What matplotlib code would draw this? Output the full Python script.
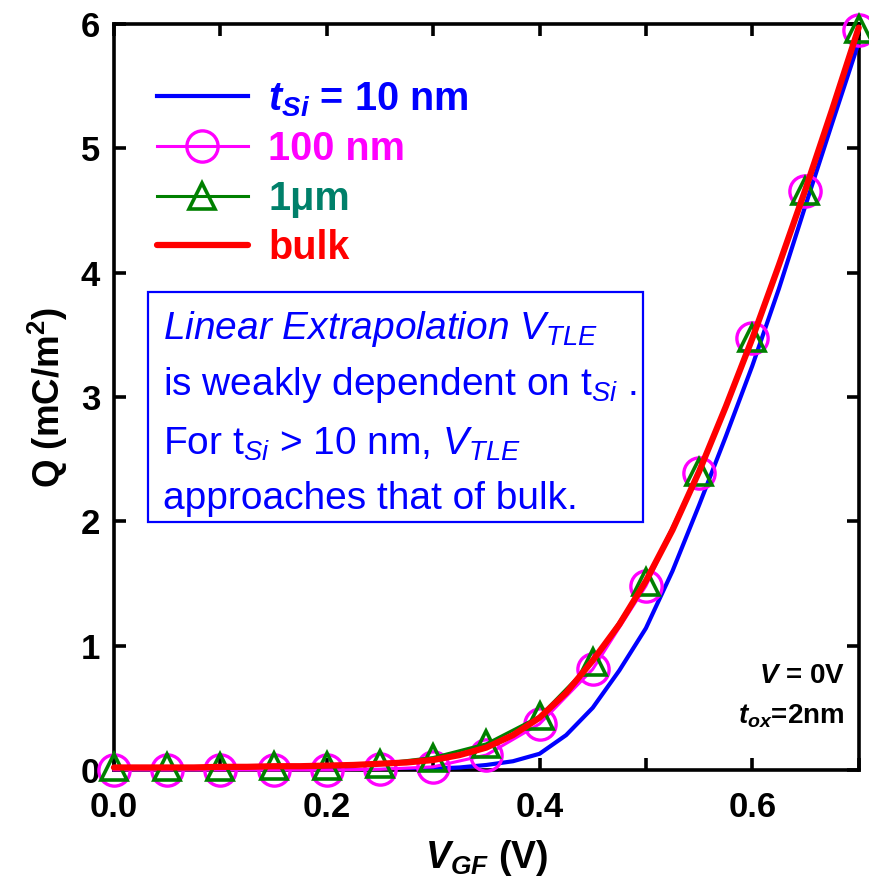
import matplotlib
matplotlib.use("Agg")
import matplotlib.pyplot as plt
from matplotlib.patches import Rectangle
from matplotlib.ticker import MultipleLocator

# Gate voltage grid for the continuous curves (V)
v_line = [0.0, 0.025, 0.05, 0.075, 0.1, 0.125, 0.15, 0.175, 0.2, 0.225,
          0.25, 0.275, 0.3, 0.325, 0.35, 0.375, 0.4, 0.425, 0.45, 0.475,
          0.5, 0.525, 0.55, 0.575, 0.6, 0.625, 0.65, 0.675, 0.7]

# Inversion charge (mC/m^2), tSi = 10 nm
q_10nm = [0.0, 0.0, 0.0, 0.0, 0.0, 0.0, 0.0, 0.0, 0.0, 0.0,
          0.0, 0.005, 0.01, 0.02, 0.04, 0.07, 0.13, 0.28, 0.50, 0.80,
          1.14, 1.60, 2.13, 2.68, 3.25, 3.87, 4.54, 5.20, 5.85]

# Inversion charge (mC/m^2), bulk device
q_bulk = [0.02, 0.02, 0.02, 0.02, 0.025, 0.025, 0.03, 0.03, 0.035, 0.04,
          0.05, 0.06, 0.08, 0.12, 0.18, 0.28, 0.42, 0.62, 0.88, 1.17,
          1.52, 1.93, 2.40, 2.92, 3.47, 4.06, 4.67, 5.31, 5.97]

# Sampled points for the thicker films
v_marker = [0.0, 0.05, 0.1, 0.15, 0.2, 0.25, 0.3, 0.35, 0.4, 0.45,
            0.5, 0.55, 0.6, 0.65, 0.7]
q_100nm = [0.0, 0.0, 0.0, 0.0, 0.0, 0.005, 0.025, 0.12, 0.37, 0.81,
           1.48, 2.39, 3.47, 4.66, 5.95]
q_1um = [0.02, 0.02, 0.02, 0.03, 0.03, 0.05, 0.10, 0.21, 0.43, 0.87,
         1.51, 2.40, 3.47, 4.66, 5.96]

x_ticks = [0.0, 0.2, 0.4, 0.6]
x_tick_labels = ["0.0", "0.2", "0.4", "0.6"]
y_ticks = [0, 1, 2, 3, 4, 5, 6]
y_tick_labels = ["0", "1", "2", "3", "4", "5", "6"]

legend_labels = [r"$\mathbfit{t}_{\mathbfit{Si}}$ = 10 nm", "100 nm", "1\u03bcm", "bulk"]

plt.rcParams["font.family"] = ["Liberation Sans", "DejaVu Sans"]
plt.rcParams["mathtext.fontset"] = "custom"
plt.rcParams["mathtext.rm"] = "Liberation Sans"
plt.rcParams["mathtext.it"] = "Liberation Sans:italic"
plt.rcParams["mathtext.bf"] = "Liberation Sans:bold"
plt.rcParams["mathtext.bfit"] = "Liberation Sans:bold:italic"

BLUE = "#0000ff"
MAGENTA = "#ff00ff"
GREEN = "#008000"
TEAL = "#00806a"
RED = "#ff0000"

fig = plt.figure(figsize=(8.7, 8.85), dpi=100)
ax = fig.add_axes([0.131, 0.130, 0.856, 0.843])

ax.plot(v_line, q_10nm, color=BLUE, lw=3.0, label=legend_labels[0], zorder=3)
ax.plot(v_marker, q_100nm, color=MAGENTA, lw=2.2, marker="o", ms=22.5,
        mfc="none", mec=MAGENTA, mew=2.4, clip_on=False,
        label=legend_labels[1], zorder=4)
ax.plot(v_marker, q_1um, color=GREEN, lw=2.2, marker="^", ms=19,
        mfc="none", mec=GREEN, mew=2.6, clip_on=False,
        label=legend_labels[2], zorder=5)
ax.plot(v_line, q_bulk, color=RED, lw=4.5, label=legend_labels[3],
        solid_capstyle="round", clip_on=False, zorder=6)

ax.set_xlim(0.0, 0.7)
ax.set_ylim(0, 6)
ax.set_xticks(x_ticks)
ax.set_xticklabels(x_tick_labels)
ax.xaxis.set_minor_locator(MultipleLocator(0.1))
ax.set_yticks(y_ticks)
ax.set_yticklabels(y_tick_labels)

for side in ["left", "right", "top", "bottom"]:
    ax.spines[side].set_linewidth(2.6)
ax.tick_params(which="both", direction="in", top=True, right=True,
               length=8.5, width=2.6, labelsize=25)
ax.tick_params(axis="x", which="both", pad=15)
ax.tick_params(axis="y", which="both", pad=10)
for lab in ax.get_xticklabels() + ax.get_yticklabels():
    lab.set_fontweight("bold")

ax.set_xlabel(r"$\mathbfit{V}_{\mathbfit{GF}}$ (V)", fontsize=27,
              fontweight="bold", labelpad=10)
ax.set_ylabel(r"Q (mC/m$^{\mathbf{2}}$)", fontsize=26.5,
              fontweight="bold", labelpad=8)

leg = ax.legend(loc="upper left", bbox_to_anchor=(0.02, 0.962),
                frameon=False, handlelength=2.3,
                handletextpad=0.52, labelspacing=0.29, borderpad=0.2,
                numpoints=1, labelcolor=[BLUE, MAGENTA, TEAL, RED],
                prop={"weight": "bold", "size": 28.5})

# Annotation box
ax.add_patch(Rectangle((0.0456, 0.332), 0.665, 0.309, transform=ax.transAxes,
                       fill=False, edgecolor=BLUE, lw=1.6, zorder=7))
box_lines = [
    (0.578, r"Linear Extrapolation $V_{TLE}$", "italic"),
    (0.503, r"is weakly dependent on $\mathrm{t}_{Si}$ .", "normal"),
    (0.422, r"For $\mathrm{t}_{Si}$ > 10 nm, $V_{TLE}$", "normal"),
    (0.350, r"approaches that of bulk.", "normal"),
]
for y, txt, style in box_lines:
    ax.text(0.066, y, txt, transform=ax.transAxes, fontsize=28,
            color=BLUE, style=style, va="baseline", ha="left", zorder=8)

ax.text(0.981, 0.117, r"$\mathbfit{V}$ = 0V", transform=ax.transAxes,
        fontsize=20, fontweight="bold", ha="right", va="baseline")
ax.text(0.981, 0.062, r"$\mathbfit{t}_{\mathbfit{ox}}$=2nm", transform=ax.transAxes,
        fontsize=20, fontweight="bold", ha="right", va="baseline")

fig.savefig("out.png", dpi=100)
